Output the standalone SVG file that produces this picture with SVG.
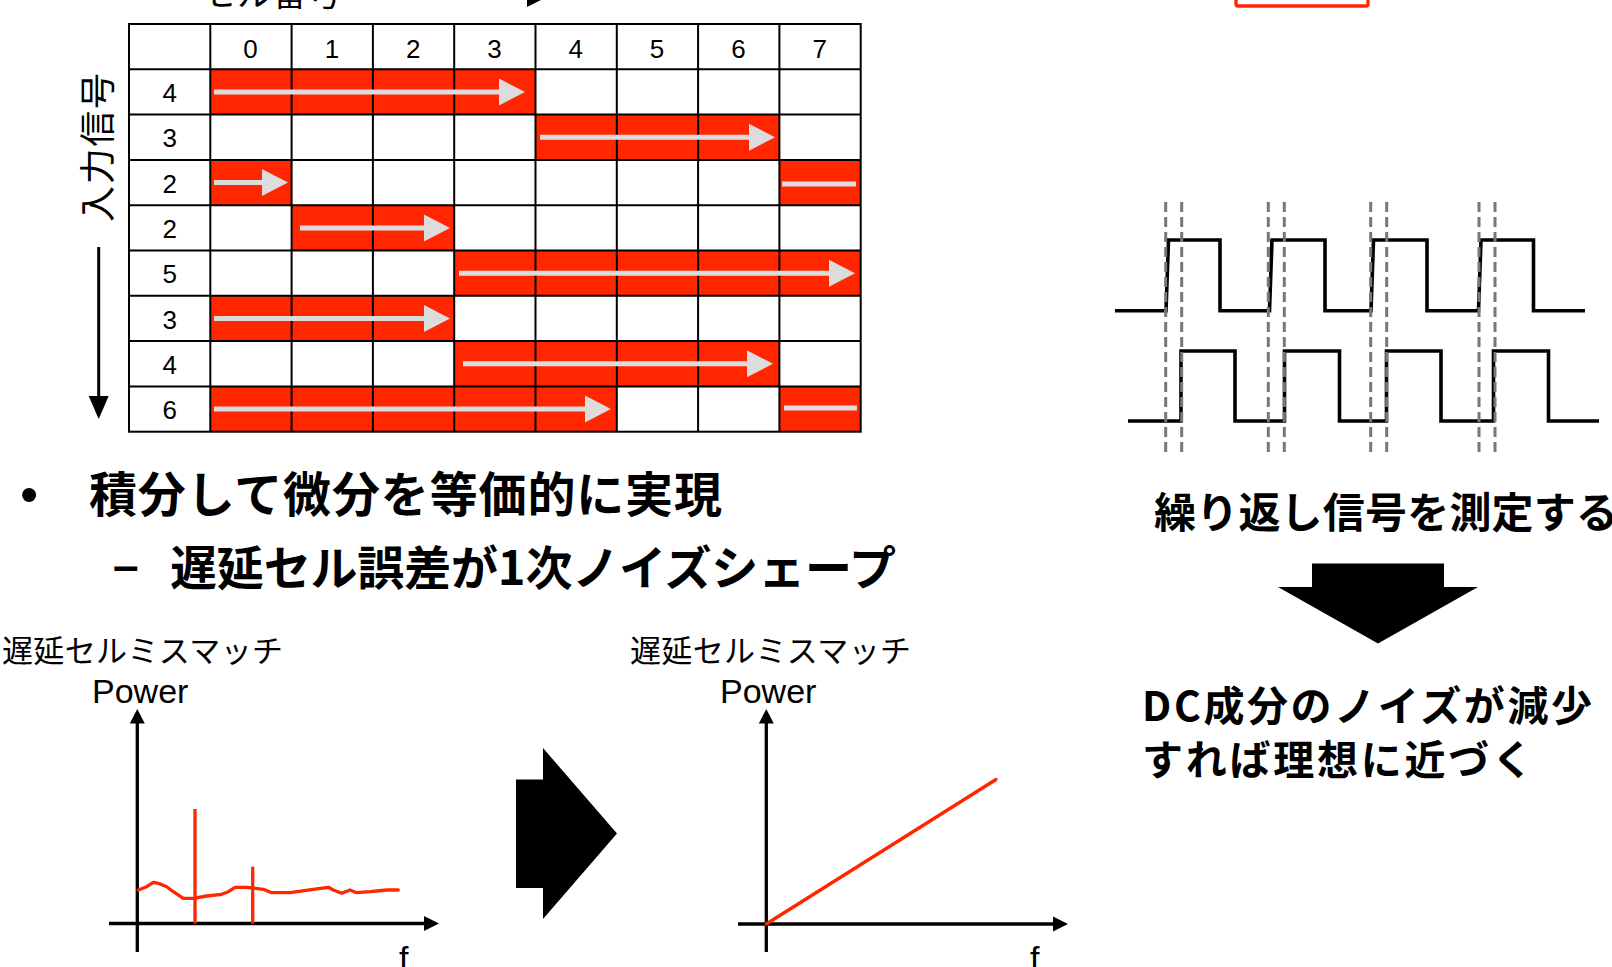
<svg xmlns="http://www.w3.org/2000/svg" width="1612" height="967" viewBox="0 0 1612 967">
<style>
.bg{fill:#ffffff}
.red{fill:#FF2600}
.grid{stroke:#000;stroke-width:2;fill:none}
.arr{fill:#DCDCDC}
.wr{stroke:#DCDCDC;stroke-width:5}
.num{font-family:"Liberation Sans",Arial,sans-serif;font-size:26px;fill:#000;text-anchor:middle}
.jp{font-family:"Noto Sans CJK JP",sans-serif;fill:#000}
.jpb{font-family:"Noto Sans CJK JP",sans-serif;font-weight:bold;fill:#000}
.lat{font-family:"Liberation Sans",Arial,sans-serif;fill:#000}
.ax{stroke:#000;stroke-width:3.3;fill:none}
.axh{fill:#000}
.wave{stroke:#000;stroke-width:3.6;fill:none;stroke-linejoin:miter}
.dash{stroke:#777;stroke-width:3;stroke-dasharray:10 5;fill:none}
.rline{stroke:#FF2600;stroke-width:3.3;fill:none;stroke-linejoin:round;stroke-linecap:round}
</style>
<rect class="bg" x="0" y="0" width="1612" height="967"/>

<g id="top-cut">
  <text class="jp" x="202" y="6" font-size="35" textLength="140">セル番号</text>
  <line x1="360" y1="-3" x2="530" y2="-3" stroke="#000" stroke-width="3"/>
  <polygon class="axh" points="527,-13 527,7 547,-3"/>
  <rect x="1236" y="-50" width="132" height="56" rx="2" fill="none" stroke="#FF2600" stroke-width="3.3"/>
</g>

<g id="input-label">
  <text class="jp" transform="translate(111,222) rotate(-90)" font-size="36" textLength="149">入力信号</text>
  <line x1="98.7" y1="247" x2="98.7" y2="398" stroke="#000" stroke-width="3"/>
  <polygon class="axh" points="88.7,396 108.7,396 98.7,419"/>
</g>

<g id="table">
  <g id="cells">
    <rect class="red" x="210.3" y="69.3" width="325.2" height="45.3"/>
    <rect class="red" x="535.5" y="114.6" width="243.9" height="45.3"/>
    <rect class="red" x="210.3" y="159.9" width="81.3" height="45.3"/>
    <rect class="red" x="779.4" y="159.9" width="81.3" height="45.3"/>
    <rect class="red" x="291.6" y="205.2" width="162.6" height="45.3"/>
    <rect class="red" x="454.2" y="250.5" width="406.5" height="45.3"/>
    <rect class="red" x="210.3" y="295.8" width="243.9" height="45.3"/>
    <rect class="red" x="454.2" y="341.1" width="325.2" height="45.3"/>
    <rect class="red" x="210.3" y="386.4" width="406.5" height="45.3"/>
    <rect class="red" x="779.4" y="386.4" width="81.3" height="45.3"/>
  </g>
  <g id="grid">
    <rect class="grid" x="129" y="24" width="731.7" height="407.7"/>
    <path class="grid" d="M210.3,24V431.7M291.6,24V431.7M372.9,24V431.7M454.2,24V431.7M535.5,24V431.7M616.8,24V431.7M698.1,24V431.7M779.4,24V431.7
      M129,69.3H860.7M129,114.6H860.7M129,159.9H860.7M129,205.2H860.7M129,250.5H860.7M129,295.8H860.7M129,341.1H860.7M129,386.4H860.7"/>
  </g>
  <g id="header">
    <text class="num" x="250.6" y="58">0</text>
    <text class="num" x="331.9" y="58">1</text>
    <text class="num" x="413.2" y="58">2</text>
    <text class="num" x="494.5" y="58">3</text>
    <text class="num" x="575.8" y="58">4</text>
    <text class="num" x="657.1" y="58">5</text>
    <text class="num" x="738.4" y="58">6</text>
    <text class="num" x="819.7" y="58">7</text>
  </g>
  <g id="row-labels">
    <text class="num" x="169.7" y="102">4</text>
    <text class="num" x="169.7" y="147.3">3</text>
    <text class="num" x="169.7" y="192.5">2</text>
    <text class="num" x="169.7" y="237.9">2</text>
    <text class="num" x="169.7" y="283.2">5</text>
    <text class="num" x="169.7" y="328.5">3</text>
    <text class="num" x="169.7" y="373.8">4</text>
    <text class="num" x="169.7" y="419.1">6</text>
  </g>
  <g id="connectors">
    <path class="arr" d="M214,89.5H499V78.5L525,92L499,105.5V94.5H214Z"/>
    <path class="arr" d="M540,134.8H749V123.8L775,137.3L749,150.8V139.8H540Z"/>
    <path class="arr" d="M214,180H262V169L288,182.5L262,196V185H214Z"/>
    <line class="wr" x1="782" y1="184" x2="856" y2="184"/>
    <path class="arr" d="M300,225.4H424V214.4L450,227.9L424,241.4V230.4H300Z"/>
    <path class="arr" d="M459,270.7H829V259.7L855,273.2L829,286.7V275.7H459Z"/>
    <path class="arr" d="M214,316H424V305L450,318.5L424,332V321H214Z"/>
    <path class="arr" d="M463,361.3H747V350.3L773,363.8L747,377.3V366.3H463Z"/>
    <path class="arr" d="M214,406.6H585V395.6L611,409.1L585,422.6V411.6H214Z"/>
    <line class="wr" x1="784" y1="408" x2="857" y2="408"/>
  </g>
</g>

<g id="bullets">
  <text class="lat" x="20" y="512" font-size="52">•</text>
  <text class="jpb" x="89" y="512" font-size="48" textLength="633">積分して微分を等価的に実現</text>
  <text class="lat" x="113" y="581" font-size="46" font-weight="bold">–</text>
  <text class="jpb" x="170" y="585" font-size="47" textLength="726">遅延セル誤差が1次ノイズシェープ</text>
</g>

<g id="chart-left">
  <text class="jp" x="2" y="662" font-size="31" textLength="281">遅延セルミスマッチ</text>
  <text class="lat" x="92" y="703" font-size="34">Power</text>
  <line class="ax" x1="137.3" y1="722" x2="137.3" y2="952"/>
  <polygon class="axh" points="129.8,723.5 144.8,723.5 137.3,709"/>
  <line class="ax" x1="109" y1="923.5" x2="426" y2="923.5"/>
  <polygon class="axh" points="424,916 424,931 439,923.5"/>
  <text class="lat" x="399" y="970" font-size="34">f</text>
  <polyline class="rline" points="138.3,890 146.7,886.7 153.3,882.3 158.3,883.3 166.7,886.7 173.3,891.7 183.3,898.3 193.3,898.3 206.7,896 221.7,894.3 228.3,891.7 235,887.3 246.7,887.3 263.3,889.3 271.7,892.7 290,892.7 313.3,889.3 328.3,887.3 333.3,890 341.7,893.3 350,890 356.7,892.7 370,891.7 386.7,890 398.3,890"/>
  <line stroke="#FF2600" stroke-width="3.3" x1="195" y1="809" x2="195" y2="923.5"/>
  <line stroke="#FF2600" stroke-width="3.3" x1="252.7" y1="866.7" x2="252.7" y2="923.5"/>
</g>

<g id="arrow-right">
  <polygon class="axh" points="516,779.5 543,779.5 543,748 617,833.5 543,919 543,888 516,888"/>
</g>

<g id="chart-right">
  <text class="jp" x="630" y="662" font-size="31" textLength="281">遅延セルミスマッチ</text>
  <text class="lat" x="720" y="703" font-size="34">Power</text>
  <line class="ax" x1="766.3" y1="722" x2="766.3" y2="952"/>
  <polygon class="axh" points="758.8,723.5 773.8,723.5 766.3,709"/>
  <line class="ax" x1="738" y1="924" x2="1055" y2="924"/>
  <polygon class="axh" points="1053,916.5 1053,931.5 1068,924"/>
  <text class="lat" x="1030" y="970" font-size="34">f</text>
  <line class="rline" x1="766.3" y1="924" x2="996" y2="779.5"/>
</g>

<g id="waveforms">
  <path class="wave" d="M1115,310.7H1166L1168.5,240H1220V310.7H1269.5L1272,240H1325V310.7H1371L1373.5,240H1427V310.7H1478.5L1481,240H1533.5V310.7H1585"/>
  <path class="wave" d="M1128,421H1181V351H1235V421H1284.5V351H1339.5V421H1386.5V351H1441V421H1493.5V351H1548.5V421H1599"/>
  <path class="dash" d="M1165.7,202V457M1181.7,202V457M1268.3,202V457M1284.3,202V457M1370.7,202V457M1386.7,202V457M1479,202V457M1495,202V457"/>
</g>

<g id="right-text">
  <text class="jpb" x="1154" y="528" font-size="42" textLength="464">繰り返し信号を測定する</text>
  <polygon class="axh" points="1312,563.5 1444,563.5 1444,587 1478,587 1378,643.5 1278,587 1312,587"/>
  <text class="jpb" x="1142" y="721" font-size="41" textLength="450">DC成分のノイズが減少</text>
  <text class="jpb" x="1142" y="775" font-size="41" textLength="391">すれば理想に近づく</text>
</g>
</svg>
